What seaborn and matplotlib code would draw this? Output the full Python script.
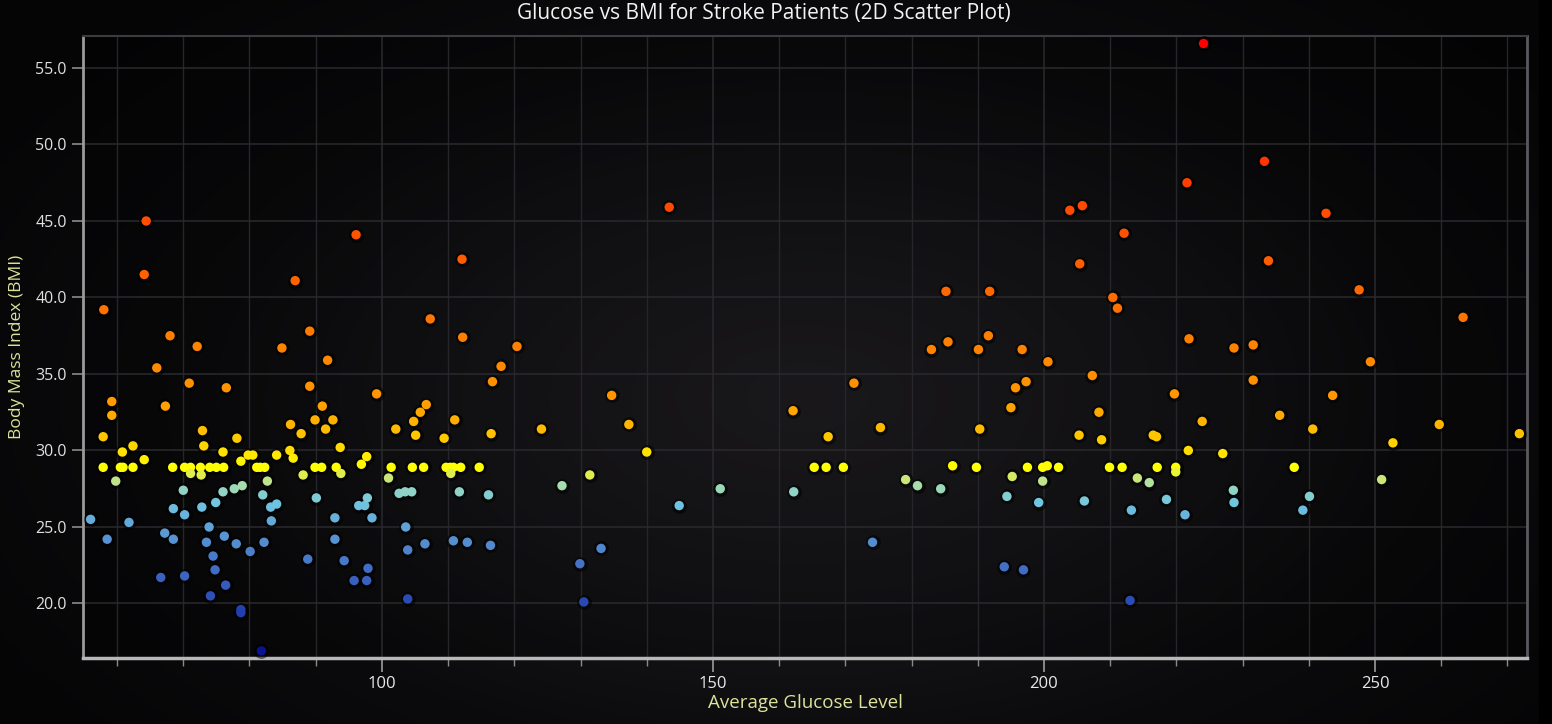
import numpy as np
import pandas as pd
import matplotlib
matplotlib.use("Agg")
import matplotlib.pyplot as plt
import seaborn as sns
from matplotlib.colors import LinearSegmentedColormap, Normalize
from matplotlib.ticker import MultipleLocator, FormatStrFormatter

# ---------------- data ----------------
glucose_left = [64.4, 64.1, 58.0, 86.9, 96.1, 89.1, 68.0, 72.1, 84.9,
                91.8, 66.0, 70.9, 76.5, 89.1, 99.2, 59.2, 59.2, 67.3, 91.0, 89.9,
                92.6, 91.5, 102.1, 86.2, 87.8, 57.9, 72.9, 78.1, 73.1, 62.4,
                60.8, 76.0, 86.1, 84.1, 93.7, 64.1, 78.7, 79.8, 80.5, 86.6, 97.7, 96.9,
                57.9, 60.5, 60.9, 62.4, 68.4, 70.2, 71.1, 72.6, 74.0, 75.0, 76.1,
                81.1, 81.6, 82.3, 89.9, 90.9, 93.1, 101.4,
                71.1, 72.7, 88.1, 93.8, 101.0, 59.8, 82.7, 70.0, 76.0, 77.7, 78.9,
                82.0, 90.1, 68.5, 70.2, 72.8, 74.9, 83.2, 84.1, 83.3, 96.5, 97.4,
                97.8, 92.9, 98.5, 102.6, 103.5, 104.5, 56.0, 61.8, 103.6, 58.5,
                67.2, 68.5, 73.9, 73.5, 76.2, 78.0, 82.2, 80.1, 92.9, 103.9, 74.5,
                74.8, 88.8, 94.3, 97.9, 66.6, 70.2, 76.4, 95.8, 97.7, 74.1, 103.9,
                78.7, 78.7, 81.8]
bmi_left = [45.0, 41.5, 39.2, 41.1, 44.1, 37.8, 37.5, 36.8, 36.7,
            35.9, 35.4, 34.4, 34.1, 34.2, 33.7, 33.2, 32.3, 32.9, 32.9, 32.0,
            32.0, 31.4, 31.4, 31.7, 31.1, 30.9, 31.3, 30.8, 30.3, 30.3,
            29.9, 29.9, 30.0, 29.7, 30.2, 29.4, 29.3, 29.7, 29.7, 29.5, 29.6, 29.1,
            28.9, 28.9, 28.9, 28.9, 28.9, 28.9, 28.9, 28.9, 28.9, 28.9, 28.9,
            28.9, 28.9, 28.9, 28.9, 28.9, 28.9, 28.9,
            28.5, 28.4, 28.4, 28.5, 28.2, 28.0, 28.0, 27.4, 27.3, 27.5, 27.7,
            27.1, 26.9, 26.2, 25.8, 26.3, 26.6, 26.3, 26.5, 25.4, 26.4, 26.4,
            26.9, 25.6, 25.6, 27.2, 27.3, 27.3, 25.5, 25.3, 25.0, 24.2,
            24.6, 24.2, 25.0, 24.0, 24.4, 23.9, 24.0, 23.4, 24.2, 23.5, 23.1,
            22.2, 22.9, 22.8, 22.3, 21.7, 21.8, 21.2, 21.5, 21.5, 20.5, 20.3,
            19.6, 19.4, 16.9]

glucose_mid = [143.4, 112.1, 107.3, 112.2, 120.4, 118.0, 116.7, 134.7, 106.7,
               105.8, 104.8, 111.0, 137.3, 162.1, 124.1, 105.1, 109.4, 116.5, 140.0,
               104.6, 106.3, 109.7, 110.3, 110.8, 111.9, 114.7,
               110.4, 131.4, 127.2, 151.1, 162.2, 111.7, 116.1, 144.9, 106.5,
               110.8, 112.9, 116.4, 133.1, 129.9, 130.5]
bmi_mid = [45.9, 42.5, 38.6, 37.4, 36.8, 35.5, 34.5, 33.6, 33.0,
           32.5, 31.9, 32.0, 31.7, 32.6, 31.4, 31.0, 30.8, 31.1, 29.9,
           28.9, 28.9, 28.9, 28.9, 28.9, 28.9, 28.9,
           28.5, 28.4, 27.7, 27.5, 27.3, 27.3, 27.1, 26.4, 23.9,
           24.1, 24.0, 23.8, 23.6, 22.6, 20.1]

glucose_right = [221.6, 203.9, 205.8, 212.1, 205.4, 185.2, 191.8, 210.4, 211.1,
                 221.9, 191.6, 185.5, 183.0, 190.1, 196.7, 200.6, 171.3, 197.3,
                 195.7, 207.3, 219.7, 195.0, 208.3, 167.4, 175.3, 190.3, 205.3,
                 208.7, 216.5, 217.0, 221.8, 223.9,
                 165.3, 167.1, 169.7, 189.8, 197.5, 199.8, 202.2, 209.9, 211.8,
                 217.1, 219.9,
                 186.2, 200.5, 219.9, 195.2, 199.8, 214.1, 215.9, 179.1, 180.9,
                 184.4, 194.4, 199.2, 206.1, 213.2, 218.5, 221.3, 174.1, 194.0,
                 196.9, 213.0,
                 224.1, 233.3, 242.6, 233.9, 247.6, 263.3, 228.7, 231.6, 249.3,
                 231.6, 243.6, 235.6, 240.6, 259.7, 271.8, 252.7, 227.0, 237.8,
                 251.0, 228.6, 228.7, 240.1, 239.1]
bmi_right = [47.5, 45.7, 46.0, 44.2, 42.2, 40.4, 40.4, 40.0, 39.3,
             37.3, 37.5, 37.1, 36.6, 36.6, 36.6, 35.8, 34.4, 34.5,
             34.1, 34.9, 33.7, 32.8, 32.5, 30.9, 31.5, 31.4, 31.0,
             30.7, 31.0, 30.9, 30.0, 31.9,
             28.9, 28.9, 28.9, 28.9, 28.9, 28.9, 28.9, 28.9, 28.9,
             28.9, 28.9,
             29.0, 29.0, 28.6, 28.3, 28.0, 28.2, 27.9, 28.1, 27.7,
             27.5, 27.0, 26.6, 26.7, 26.1, 26.8, 25.8, 24.0, 22.4,
             22.2, 20.2,
             56.6, 48.9, 45.5, 42.4, 40.5, 38.7, 36.7, 36.9, 35.8,
             34.6, 33.6, 32.3, 31.4, 31.7, 31.1, 30.5, 29.8, 28.9,
             28.1, 27.4, 26.6, 27.0, 26.1]

x_tick_values = [100, 150, 200, 250]
y_tick_values = [20, 25, 30, 35, 40, 45, 50, 55]

title_text = "Glucose vs BMI for Stroke Patients (2D Scatter Plot)"
x_label = "Average Glucose Level"
y_label = "Body Mass Index (BMI)"

df = pd.DataFrame({
    "glucose": glucose_left + glucose_mid + glucose_right,
    "bmi": bmi_left + bmi_mid + bmi_right,
})

# ---------------- style ----------------
sns.set_theme(style="dark")
plt.rcParams["font.family"] = ["Open Sans", "DejaVu Sans"]

W, H = 1552, 724
fig = plt.figure(figsize=(W / 100, H / 100), dpi=100)

# radial gradient background
bg = fig.add_axes([0, 0, 1, 1], zorder=-10)
yy, xx = np.mgrid[0:1:400j, 0:1:800j]
r = np.sqrt(((xx - 0.52) / 0.62) ** 2 + ((yy - 0.55) / 0.75) ** 2)
r = np.clip(r, 0, 1)
bg_cmap = LinearSegmentedColormap.from_list("bg", ["#232125", "#18171a", "#0b0b0d", "#050506"])
bg.imshow(r, cmap=bg_cmap, vmin=0, vmax=1, aspect="auto", extent=[0, 1, 0, 1], origin="upper")
bg.add_patch(plt.Rectangle((1539 / W, 0), 1, 1, color="black", transform=bg.transAxes))
bg.set_xlim(0, 1); bg.set_ylim(0, 1)
bg.axis("off")

left, right = 83.3 / W, 1527.3 / W
bottom, top = 1 - 657.5 / H, 1 - 36 / H
ax = fig.add_axes([left, bottom, right - left, top - bottom])
ax.set_facecolor((0, 0, 0, 0.25))

stops = [(16.9, "#0a1290"), (19.5, "#2440b0"), (21.5, "#3a60c0"), (23.5, "#4f84cc"),
         (25.0, "#5fa2d8"), (26.5, "#70c4e0"), (27.3, "#8ed2c8"), (27.8, "#b2e0a0"),
         (28.3, "#d8ea60"), (28.9, "#ffff00"), (30.0, "#ffdc00"), (31.5, "#ffb800"),
         (33.5, "#ff9600"), (37.0, "#ff8000"), (41.0, "#ff6400"), (45.5, "#ff4c00"),
         (49.0, "#ff3400"), (56.6, "#ff0000")]
vmin, vmax = stops[0][0], stops[-1][0]
cmap = LinearSegmentedColormap.from_list(
    "bmi", [((v - vmin) / (vmax - vmin), c) for v, c in stops])
norm = Normalize(vmin, vmax)

# soft shadow under points
sns.scatterplot(data=df, x="glucose", y="bmi", color="black", alpha=0.5, s=115,
                linewidth=0, legend=False, ax=ax, zorder=3)
sns.scatterplot(data=df, x="glucose", y="bmi", hue="bmi", palette=cmap, hue_norm=norm,
                s=46, linewidth=0, legend=False, ax=ax, zorder=4)

ax.set_xlim(54.9, 273.0)
ax.set_ylim(16.47, 57.09)

ax.set_xticks(x_tick_values)
ax.xaxis.set_minor_locator(MultipleLocator(10))
ax.set_yticks(y_tick_values)
ax.yaxis.set_major_formatter(FormatStrFormatter("%.1f"))

ax.grid(True, which="major", color="#2a2a2e", linewidth=1.1)
ax.grid(True, which="minor", axis="x", color="#26262a", linewidth=1.0)
ax.set_axisbelow(True)

ax.tick_params(axis="x", which="major", length=10, width=1.2, color="#9c9c9c",
               labelcolor="#e8e8e8", labelsize=12, pad=3, bottom=True)
ax.tick_params(axis="x", which="minor", length=6, width=1.0, color="#8a8a8a", bottom=True)
ax.tick_params(axis="y", which="major", length=8, width=1.2, color="#8a8a8a",
               labelcolor="#e0e0e0", labelsize=11.5, pad=4, left=True)

for name, sp in ax.spines.items():
    sp.set_visible(True)
ax.spines["left"].set_color("#9a9a9a"); ax.spines["left"].set_linewidth(2)
ax.spines["bottom"].set_color("#b8b8b8"); ax.spines["bottom"].set_linewidth(2.5)
ax.spines["top"].set_color("#3c3c40"); ax.spines["top"].set_linewidth(1.5)
ax.spines["right"].set_color("#5a5a5e"); ax.spines["right"].set_linewidth(2)

ax.set_xlabel(x_label, color="#dde39a", fontsize=13.5, va="center")
ax.xaxis.set_label_coords(0.5, (657.5 - 703) / (657.5 - 36))
ax.set_ylabel(y_label, color="#dde39a", fontsize=12.5, va="center")
ax.yaxis.set_label_coords((17 - 83.3) / (1527.3 - 83.3), 0.5)

fig.text(763.5 / W, 1 - 13 / H, title_text, ha="center", va="center",
         color="#f2f2f2", fontsize=15)

fig.savefig("out.png", dpi=100)
